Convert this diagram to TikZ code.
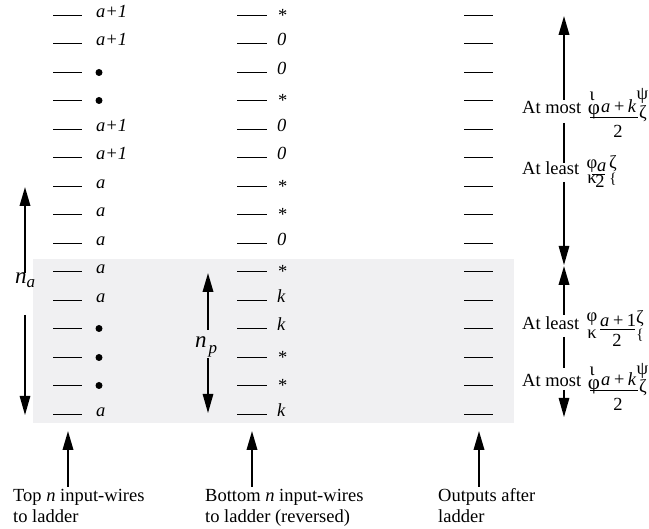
\documentclass[tikz,border=0pt]{standalone}
\usepackage{fontspec}
\setmainfont{Liberation Serif}
\usetikzlibrary{arrows.meta}
\definecolor{boxgray}{RGB}{240,240,242}
\begin{document}
\begin{tikzpicture}[x=1pt,y=-1pt,
  every node/.style={inner sep=0pt, font=\fontsize{18.5}{21}\selectfont},
  wire/.style={line width=1.8pt},
  val/.style={anchor=mid west, font=\fontsize{18.5}{21}\selectfont\itshape},
  star/.style={anchor=mid west, yshift=-4pt},
  blob/.style={circle, fill=black, minimum size=7pt},
  tip/.style={-{Triangle[length=19pt,width=10.5pt]}},
  thickarr/.style={tip, line width=2pt},
  thinarr/.style={tip, line width=1.3pt},
  thinline/.style={line width=1.3pt},
  glyph/.style={anchor=center},
  bigglyph/.style={anchor=center, font=\fontsize{21}{21}\selectfont},
  smallglyph/.style={anchor=center, font=\fontsize{15}{15}\selectfont},
  fbar/.style={line width=0.9pt},
  lab/.style={anchor=base west},
  num/.style={anchor=base west, font=\fontsize{18.5}{21}\selectfont\itshape},
  den/.style={anchor=base},
]
\useasboundingbox (0,0) rectangle (649,529);
\fill[boxgray] (33,259) rectangle (514,423);

% left column
\foreach \k/\t [count=\i from 0] in {t/a+1,t/a+1,d/,d/,t/a+1,t/a+1,t/a,t/a,t/a,t/a,t/a,d/,d/,d/,t/a} {
  \pgfmathsetmacro\y{floor(15+28.5*\i)+0.5}
  \draw[wire] (53,\y) -- (82,\y);
  \if d\k \node[blob] (L\i) at (99,\y) {}; \else \node[val] (L\i) at (96,\y) {\t}; \fi
}
% middle column
\foreach \k/\t [count=\i from 0] in {s/,n/0,n/0,s/,n/0,n/0,s/,s/,n/0,s/,n/k,n/k,s/,s/,n/k} {
  \pgfmathsetmacro\y{floor(15+28.5*\i)+0.5}
  \draw[wire] (237,\y) -- (267,\y);
  \if s\k \node[star] (M\i) at (278,\y) {*}; \else \node[val] (M\i) at (277,\y) {\t}; \fi
}
% right column
\foreach \i in {0,...,14} {
  \pgfmathsetmacro\y{floor(15+28.5*\i)+0.5}
  \draw[wire] (464,\y) -- (493,\y);
}

% n_a arrow
\node[anchor=base west] (na) at (15,284) {\fontsize{23}{23}\selectfont\itshape n\raisebox{-4pt}{\fontsize{17}{17}\selectfont a}};
\coordinate (naUp0) at (25,273); \coordinate (naUp1) at (25,187);
\coordinate (naDn0) at (25,315); \coordinate (naDn1) at (25,415);
\draw[thickarr] (naUp0) -- (naUp1);
\draw[thinarr] (naDn0) -- (naDn1);

% n_p arrow
\node[anchor=base west] (np) at (195,348) {\fontsize{23}{23}\selectfont\itshape n\hspace{2pt}\raisebox{-6pt}{\fontsize{17}{17}\selectfont p}};
\coordinate (npUp0) at (208,330); \coordinate (npUp1) at (208,273);
\coordinate (npDn0) at (208,358); \coordinate (npDn1) at (208,413);
\draw[thickarr] (npUp0) -- (npUp1);
\draw[thinarr] (npDn0) -- (npDn1);

% bottom labels and arrows
\node[lab] (t1a) at (13,502) {Top \textit{n} input-wires};
\node[lab] (t1b) at (13,523) {to ladder};
\node[lab] (t2a) at (205,502) {Bottom \textit{n} input-wires};
\node[lab] (t2b) at (205,523) {to ladder (reversed)};
\node[lab] (t3a) at (438,502) {Outputs after};
\node[lab] (t3b) at (438,523) {ladder};
\coordinate (b1) at (68,487); \coordinate (b1t) at (68,431);
\coordinate (b2) at (252,487); \coordinate (b2t) at (252,431);
\coordinate (b3) at (479,487); \coordinate (b3t) at (479,431);
\draw[thickarr] (b1) -- (b1t);
\draw[thickarr] (b2) -- (b2t);
\draw[thickarr] (b3) -- (b3t);

% right arrows
\coordinate (r1a) at (564,100); \coordinate (r1b) at (564,16);
\coordinate (r2a) at (564,123); \coordinate (r2b) at (564,163);
\coordinate (r3a) at (564,182); \coordinate (r3b) at (564,265);
\draw[thickarr] (r1a) -- (r1b);
\draw[thinline] (r2a) -- (r2b);
\draw[thinarr] (r3a) -- (r3b);
\coordinate (r4a) at (564,315); \coordinate (r4b) at (564,266);
\coordinate (r5a) at (564,337); \coordinate (r5b) at (564,368);
\coordinate (r6a) at (564,390); \coordinate (r6b) at (564,417);
\draw[thickarr] (r4a) -- (r4b);
\draw[thinline] (r5a) -- (r5b);
\draw[thinarr] (r6a) -- (r6b);

% expression 1: At most (top)
\node[lab] (e1) at (522,114) {At most};
\node[glyph] (e1g1) at (592,96) {ι};
\node[bigglyph] (e1g2) at (594,112) {φ};
\node[num] (e1n) at (601,113) {a\hspace{2.5pt}+\hspace{2.5pt}k};
\draw[fbar] (590,117) -- (638,117);
\node[den] (e1d) at (618,138) {2};
\node[glyph] (e1g3) at (642.5,96) {ψ};
\node[glyph] (e1g4) at (643,114) {ζ};

% expression 2: At least (top)
\node[lab] (e2) at (522,175) {At least};
\node[glyph] (e2g1) at (592,166) {φ};
\node[num] (e2n) at (597,172) {a};
\draw[fbar] (592,174) -- (605,174);
\node[glyph] (e2g2) at (592,179) {κ};
\node[den] (e2d) at (600,188) {2};
\node[glyph] (e2g3) at (613,164) {ζ};
\node[smallglyph] (e2g4) at (613,179) {\{};

% expression 3: At least (lower)
\node[lab] (e3) at (522,330) {At least};
\node[glyph] (e3g1) at (592,319) {φ};
\node[num] (e3n) at (600,327) {a\hspace{2.5pt}+\hspace{2.5pt}\textup{1}};
\draw[fbar] (600,329) -- (635,329);
\node[glyph] (e3g2) at (592,334) {κ};
\node[den] (e3d) at (617,347) {2};
\node[glyph] (e3g3) at (640,319) {ζ};
\node[smallglyph] (e3g4) at (640,335) {\{};

% expression 4: At most (lower)
\node[lab] (e4) at (522,387) {At most};
\node[glyph] (e4g1) at (592,371) {ι};
\node[bigglyph] (e4g2) at (594,387) {φ};
\node[num] (e4n) at (601,386) {a\hspace{2.5pt}+\hspace{2.5pt}k};
\draw[fbar] (590,390) -- (638,390);
\node[den] (e4d) at (618,411) {2};
\node[glyph] (e4g3) at (642.5,371) {ψ};
\node[glyph] (e4g4) at (643,388) {ζ};
\end{tikzpicture}
\end{document}
